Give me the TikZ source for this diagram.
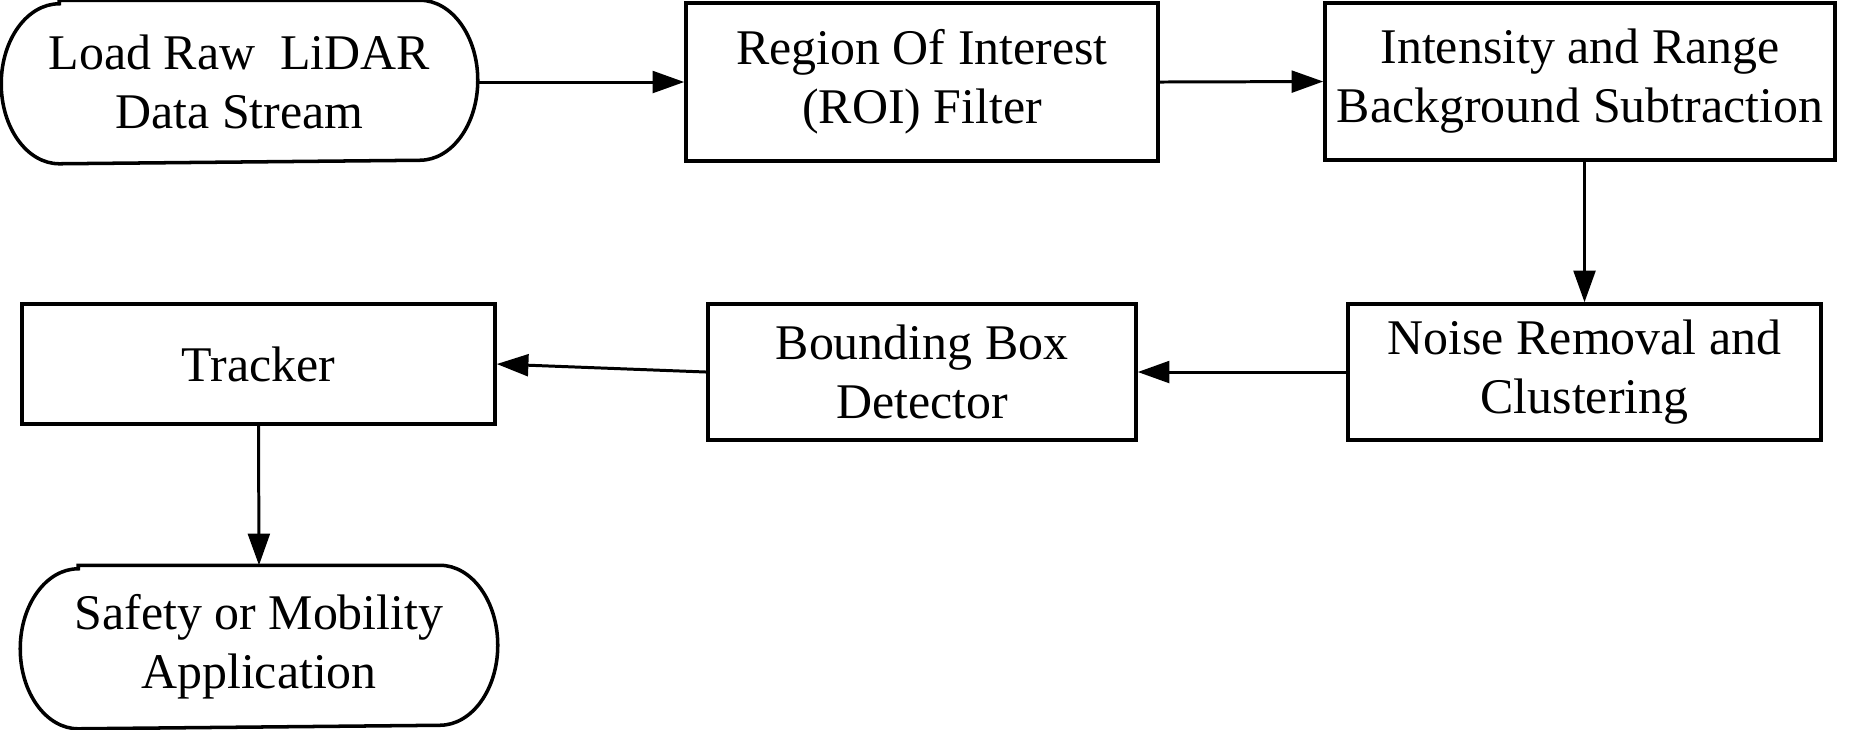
\documentclass[tikz,border=0pt]{standalone}
\usepackage{fontspec}
\setmainfont{Liberation Serif}
\usetikzlibrary{arrows.meta}

% outline of a start/end node with half-elliptic ends
\newcommand\termline[1]{%
  \draw[line width=1pt] ([xshift=0.58cm]#1.north west) -- ([xshift=-0.58cm]#1.north east)
    arc[start angle=90,end angle=-90,x radius=0.58cm,y radius=0.8cm]
    -- ([xshift=0.58cm]#1.south west)
    arc[start angle=270,end angle=90,x radius=0.58cm,y radius=0.8cm] -- cycle;}

\begin{document}
\begin{tikzpicture}[
        stepbox/.style={draw,line width=1pt,align=center,inner sep=0pt,font=\fontsize{14.2}{16.8}\selectfont},
        termbox/.style={stepbox,draw=none},
        flow/.style={line width=0.85pt,-{Triangle[length=9pt,width=6.2pt]}}]
        \useasboundingbox (0,0) rectangle (18.54,-7.29);
        % top row
        \node[termbox,minimum width=4.73cm,minimum height=1.6cm] (load) at (2.395,-0.82) {Load Raw\ \ LiDAR\\Data Stream};
        \termline{load}
        \node[stepbox,minimum width=4.72cm,minimum height=1.58cm] (roi) at (9.22,-0.82) {Region Of Interest\\(ROI) Filter};
        \node[stepbox,minimum width=5.10cm,minimum height=1.57cm] (bgsub) at (15.80,-0.815) {Intensity and Range\\Background Subtraction};
        % bottom row
        \node[stepbox,minimum width=4.73cm,minimum height=1.36cm] (noise) at (15.845,-3.72) {Noise Removal and\\Clustering};
        \node[stepbox,minimum width=4.28cm,minimum height=1.36cm] (bbox) at (9.22,-3.72) {Bounding Box\\Detector};
        \node[stepbox,minimum width=4.73cm,minimum height=1.20cm] (tracker) at (2.585,-3.64) {Tracker};
        \node[termbox,minimum width=4.74cm,minimum height=1.6cm] (app) at (2.59,-6.47) {Safety or Mobility\\Application};
        \termline{app}
        % connectors
        \draw[flow] (load.east) -- (roi.west);
        \draw[flow] (roi.east) -- (bgsub.west);
        \draw[flow] (noise.north |- bgsub.south) -- (noise.north);
        \draw[flow] (noise.west) -- (bbox.east);
        \draw[flow] (bbox.west) -- (tracker.east);
        \draw[flow] (tracker.south) -- (app.north);
\end{tikzpicture}
\end{document}
